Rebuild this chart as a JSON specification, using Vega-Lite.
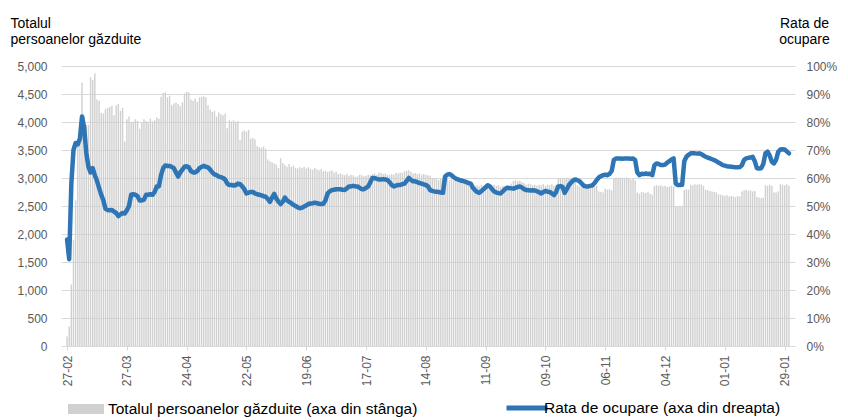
{
  "$schema": "https://vega.github.io/schema/vega-lite/v6.json",
  "width": 734,
  "height": 280,
  "autosize": {"type": "none"},
  "padding": {"left": 61, "top": 66, "right": 53, "bottom": 74},
  "background": "white",
  "config": {
    "view": {"stroke": null},
    "axis": {"labelFont": "Liberation Sans", "titleFont": "Liberation Sans", "labelFlush": false, "labelOverlap": false},
    "legend": {"labelFont": "Liberation Sans"}
  },
  "data": {"values": [
{"date":"2022-02-27","total":170,"rate":38},
{"date":"2022-02-28","total":350,"rate":31},
{"date":"2022-03-01","total":1100,"rate":58},
{"date":"2022-03-02","total":1900,"rate":70},
{"date":"2022-03-03","total":2600,"rate":72.5},
{"date":"2022-03-04","total":3600,"rate":72},
{"date":"2022-03-05","total":4000,"rate":74},
{"date":"2022-03-06","total":4700,"rate":82},
{"date":"2022-03-07","total":4100,"rate":78},
{"date":"2022-03-08","total":3950,"rate":69},
{"date":"2022-03-09","total":3950,"rate":64},
{"date":"2022-03-10","total":4800,"rate":62},
{"date":"2022-03-11","total":4750,"rate":63.5},
{"date":"2022-03-12","total":4870,"rate":61},
{"date":"2022-03-13","total":4400,"rate":59},
{"date":"2022-03-14","total":4380,"rate":56.5},
{"date":"2022-03-15","total":4160,"rate":54},
{"date":"2022-03-16","total":4150,"rate":52},
{"date":"2022-03-17","total":4230,"rate":49},
{"date":"2022-03-18","total":4250,"rate":48.6},
{"date":"2022-03-19","total":4270,"rate":48.5},
{"date":"2022-03-20","total":4290,"rate":48.6},
{"date":"2022-03-21","total":4120,"rate":48},
{"date":"2022-03-22","total":4300,"rate":47.5},
{"date":"2022-03-23","total":4320,"rate":46.4},
{"date":"2022-03-24","total":4200,"rate":47},
{"date":"2022-03-25","total":4250,"rate":47.5},
{"date":"2022-03-26","total":3650,"rate":47.3},
{"date":"2022-03-27","total":4050,"rate":48.5},
{"date":"2022-03-28","total":4100,"rate":50},
{"date":"2022-03-29","total":4000,"rate":54},
{"date":"2022-03-30","total":4010,"rate":54.2},
{"date":"2022-03-31","total":4050,"rate":54},
{"date":"2022-04-01","total":4020,"rate":53.5},
{"date":"2022-04-02","total":3880,"rate":52},
{"date":"2022-04-03","total":4000,"rate":52},
{"date":"2022-04-04","total":4050,"rate":52.3},
{"date":"2022-04-05","total":4020,"rate":54},
{"date":"2022-04-06","total":4000,"rate":54},
{"date":"2022-04-07","total":4060,"rate":54.2},
{"date":"2022-04-08","total":4010,"rate":54},
{"date":"2022-04-09","total":4030,"rate":55},
{"date":"2022-04-10","total":4080,"rate":57},
{"date":"2022-04-11","total":4060,"rate":57},
{"date":"2022-04-12","total":4450,"rate":61},
{"date":"2022-04-13","total":4520,"rate":63.5},
{"date":"2022-04-14","total":4530,"rate":64.5},
{"date":"2022-04-15","total":4440,"rate":64.3},
{"date":"2022-04-16","total":4470,"rate":64.3},
{"date":"2022-04-17","total":4300,"rate":64},
{"date":"2022-04-18","total":4330,"rate":63.5},
{"date":"2022-04-19","total":4350,"rate":62},
{"date":"2022-04-20","total":4320,"rate":60.5},
{"date":"2022-04-21","total":4280,"rate":62},
{"date":"2022-04-22","total":4350,"rate":63},
{"date":"2022-04-23","total":4510,"rate":64},
{"date":"2022-04-24","total":4540,"rate":64.2},
{"date":"2022-04-25","total":4530,"rate":63.8},
{"date":"2022-04-26","total":4400,"rate":62.5},
{"date":"2022-04-27","total":4380,"rate":62},
{"date":"2022-04-28","total":4420,"rate":62},
{"date":"2022-04-29","total":4360,"rate":62.5},
{"date":"2022-04-30","total":4440,"rate":63.5},
{"date":"2022-05-01","total":4450,"rate":64},
{"date":"2022-05-02","total":4460,"rate":64.3},
{"date":"2022-05-03","total":4440,"rate":64},
{"date":"2022-05-04","total":4300,"rate":63.8},
{"date":"2022-05-05","total":4220,"rate":63},
{"date":"2022-05-06","total":4180,"rate":62},
{"date":"2022-05-07","total":4200,"rate":61.3},
{"date":"2022-05-08","total":4100,"rate":61},
{"date":"2022-05-09","total":4170,"rate":60.5},
{"date":"2022-05-10","total":4140,"rate":60.3},
{"date":"2022-05-11","total":4120,"rate":60},
{"date":"2022-05-12","total":4150,"rate":59.5},
{"date":"2022-05-13","total":3890,"rate":58},
{"date":"2022-05-14","total":4030,"rate":57.5},
{"date":"2022-05-15","total":4010,"rate":57.5},
{"date":"2022-05-16","total":4030,"rate":57.3},
{"date":"2022-05-17","total":4000,"rate":57.5},
{"date":"2022-05-18","total":4020,"rate":58},
{"date":"2022-05-19","total":3680,"rate":57.8},
{"date":"2022-05-20","total":3830,"rate":57},
{"date":"2022-05-21","total":3850,"rate":56},
{"date":"2022-05-22","total":3830,"rate":54.5},
{"date":"2022-05-23","total":3860,"rate":54.8},
{"date":"2022-05-24","total":3700,"rate":55},
{"date":"2022-05-25","total":3720,"rate":55},
{"date":"2022-05-26","total":3690,"rate":54.5},
{"date":"2022-05-27","total":3570,"rate":54.2},
{"date":"2022-05-28","total":3550,"rate":54},
{"date":"2022-05-29","total":3540,"rate":53.8},
{"date":"2022-05-30","total":3560,"rate":53.5},
{"date":"2022-05-31","total":3520,"rate":53.3},
{"date":"2022-06-01","total":3330,"rate":52.5},
{"date":"2022-06-02","total":3300,"rate":51.5},
{"date":"2022-06-03","total":3280,"rate":53},
{"date":"2022-06-04","total":3260,"rate":54.3},
{"date":"2022-06-05","total":3240,"rate":52.7},
{"date":"2022-06-06","total":3180,"rate":51.5},
{"date":"2022-06-07","total":3350,"rate":50.7},
{"date":"2022-06-08","total":3270,"rate":51.5},
{"date":"2022-06-09","total":3230,"rate":53},
{"date":"2022-06-10","total":3200,"rate":52},
{"date":"2022-06-11","total":3250,"rate":51.5},
{"date":"2022-06-12","total":3200,"rate":51},
{"date":"2022-06-13","total":3220,"rate":50.4},
{"date":"2022-06-14","total":3180,"rate":50},
{"date":"2022-06-15","total":3170,"rate":49.5},
{"date":"2022-06-16","total":3190,"rate":49.2},
{"date":"2022-06-17","total":3180,"rate":49.4},
{"date":"2022-06-18","total":3200,"rate":49.8},
{"date":"2022-06-19","total":3170,"rate":50.2},
{"date":"2022-06-20","total":3190,"rate":50.7},
{"date":"2022-06-21","total":3160,"rate":50.9},
{"date":"2022-06-22","total":3150,"rate":51},
{"date":"2022-06-23","total":3180,"rate":51.2},
{"date":"2022-06-24","total":3150,"rate":51},
{"date":"2022-06-25","total":3140,"rate":50.8},
{"date":"2022-06-26","total":3160,"rate":50.7},
{"date":"2022-06-27","total":3120,"rate":50.8},
{"date":"2022-06-28","total":3130,"rate":52},
{"date":"2022-06-29","total":3110,"rate":54.5},
{"date":"2022-06-30","total":3120,"rate":55.2},
{"date":"2022-07-01","total":3140,"rate":55.7},
{"date":"2022-07-02","total":3100,"rate":55.8},
{"date":"2022-07-03","total":3110,"rate":56},
{"date":"2022-07-04","total":3070,"rate":56},
{"date":"2022-07-05","total":3080,"rate":56},
{"date":"2022-07-06","total":3060,"rate":55.8},
{"date":"2022-07-07","total":3050,"rate":55.7},
{"date":"2022-07-08","total":3070,"rate":56.3},
{"date":"2022-07-09","total":3040,"rate":57},
{"date":"2022-07-10","total":3060,"rate":57},
{"date":"2022-07-11","total":3050,"rate":57.2},
{"date":"2022-07-12","total":3020,"rate":57},
{"date":"2022-07-13","total":3030,"rate":57},
{"date":"2022-07-14","total":3060,"rate":56.5},
{"date":"2022-07-15","total":3050,"rate":56},
{"date":"2022-07-16","total":3030,"rate":56},
{"date":"2022-07-17","total":3040,"rate":56.5},
{"date":"2022-07-18","total":3060,"rate":57},
{"date":"2022-07-19","total":3050,"rate":58.5},
{"date":"2022-07-20","total":3070,"rate":60},
{"date":"2022-07-21","total":3080,"rate":60},
{"date":"2022-07-22","total":3060,"rate":59.7},
{"date":"2022-07-23","total":3100,"rate":59.5},
{"date":"2022-07-24","total":3090,"rate":59.5},
{"date":"2022-07-25","total":3070,"rate":59.6},
{"date":"2022-07-26","total":3080,"rate":59.5},
{"date":"2022-07-27","total":3060,"rate":59.3},
{"date":"2022-07-28","total":3050,"rate":58.5},
{"date":"2022-07-29","total":3070,"rate":57.5},
{"date":"2022-07-30","total":3060,"rate":57},
{"date":"2022-07-31","total":3090,"rate":57.3},
{"date":"2022-08-01","total":3080,"rate":57.5},
{"date":"2022-08-02","total":3100,"rate":57.5},
{"date":"2022-08-03","total":3090,"rate":57.8},
{"date":"2022-08-04","total":3120,"rate":58},
{"date":"2022-08-05","total":3130,"rate":59},
{"date":"2022-08-06","total":3140,"rate":60},
{"date":"2022-08-07","total":3110,"rate":59.3},
{"date":"2022-08-08","total":3080,"rate":58.8},
{"date":"2022-08-09","total":3090,"rate":58.8},
{"date":"2022-08-10","total":3070,"rate":58.5},
{"date":"2022-08-11","total":3080,"rate":58.2},
{"date":"2022-08-12","total":3060,"rate":58},
{"date":"2022-08-13","total":3070,"rate":57.7},
{"date":"2022-08-14","total":3060,"rate":57.5},
{"date":"2022-08-15","total":3050,"rate":57},
{"date":"2022-08-16","total":3040,"rate":55.7},
{"date":"2022-08-17","total":3000,"rate":55.4},
{"date":"2022-08-18","total":2990,"rate":55.2},
{"date":"2022-08-19","total":2980,"rate":55.1},
{"date":"2022-08-20","total":2960,"rate":55},
{"date":"2022-08-21","total":2980,"rate":54.8},
{"date":"2022-08-22","total":2970,"rate":54.7},
{"date":"2022-08-23","total":3000,"rate":60.5},
{"date":"2022-08-24","total":2990,"rate":61.2},
{"date":"2022-08-25","total":2960,"rate":61.4},
{"date":"2022-08-26","total":2980,"rate":61},
{"date":"2022-08-27","total":2950,"rate":60.3},
{"date":"2022-08-28","total":2970,"rate":59.8},
{"date":"2022-08-29","total":2940,"rate":59.5},
{"date":"2022-08-30","total":2960,"rate":59.2},
{"date":"2022-08-31","total":2930,"rate":59},
{"date":"2022-09-01","total":2950,"rate":58.8},
{"date":"2022-09-02","total":2940,"rate":58.5},
{"date":"2022-09-03","total":2930,"rate":58.2},
{"date":"2022-09-04","total":2900,"rate":58},
{"date":"2022-09-05","total":2880,"rate":56.5},
{"date":"2022-09-06","total":2860,"rate":55.7},
{"date":"2022-09-07","total":2870,"rate":55},
{"date":"2022-09-08","total":2850,"rate":54.7},
{"date":"2022-09-09","total":2880,"rate":55.3},
{"date":"2022-09-10","total":2860,"rate":56},
{"date":"2022-09-11","total":2870,"rate":56.7},
{"date":"2022-09-12","total":2840,"rate":57.4},
{"date":"2022-09-13","total":2860,"rate":57},
{"date":"2022-09-14","total":2850,"rate":56},
{"date":"2022-09-15","total":2880,"rate":55.2},
{"date":"2022-09-16","total":2860,"rate":54.8},
{"date":"2022-09-17","total":2870,"rate":54.6},
{"date":"2022-09-18","total":2840,"rate":54.5},
{"date":"2022-09-19","total":2860,"rate":55.2},
{"date":"2022-09-20","total":2850,"rate":56},
{"date":"2022-09-21","total":2870,"rate":56.5},
{"date":"2022-09-22","total":2840,"rate":56.4},
{"date":"2022-09-23","total":2900,"rate":56.3},
{"date":"2022-09-24","total":2950,"rate":56.2},
{"date":"2022-09-25","total":2960,"rate":56.5},
{"date":"2022-09-26","total":2940,"rate":56.8},
{"date":"2022-09-27","total":2950,"rate":57},
{"date":"2022-09-28","total":2930,"rate":56.6},
{"date":"2022-09-29","total":2910,"rate":56},
{"date":"2022-09-30","total":2880,"rate":55.7},
{"date":"2022-10-01","total":2900,"rate":55.6},
{"date":"2022-10-02","total":2890,"rate":55.5},
{"date":"2022-10-03","total":2870,"rate":55.6},
{"date":"2022-10-04","total":2880,"rate":55.5},
{"date":"2022-10-05","total":2860,"rate":55.3},
{"date":"2022-10-06","total":2880,"rate":54.9},
{"date":"2022-10-07","total":2870,"rate":54.5},
{"date":"2022-10-08","total":2890,"rate":55},
{"date":"2022-10-09","total":2860,"rate":55.4},
{"date":"2022-10-10","total":2880,"rate":55.1},
{"date":"2022-10-11","total":2870,"rate":55},
{"date":"2022-10-12","total":2890,"rate":54.5},
{"date":"2022-10-13","total":2860,"rate":53.9},
{"date":"2022-10-14","total":2880,"rate":55},
{"date":"2022-10-15","total":2990,"rate":57},
{"date":"2022-10-16","total":3000,"rate":57.1},
{"date":"2022-10-17","total":2990,"rate":56.8},
{"date":"2022-10-18","total":2980,"rate":54.7},
{"date":"2022-10-19","total":3010,"rate":56},
{"date":"2022-10-20","total":3000,"rate":57.5},
{"date":"2022-10-21","total":2990,"rate":58.4},
{"date":"2022-10-22","total":3020,"rate":59.1},
{"date":"2022-10-23","total":2980,"rate":59.5},
{"date":"2022-10-24","total":2870,"rate":59.2},
{"date":"2022-10-25","total":2850,"rate":58.8},
{"date":"2022-10-26","total":2830,"rate":58},
{"date":"2022-10-27","total":2860,"rate":57.2},
{"date":"2022-10-28","total":2840,"rate":57},
{"date":"2022-10-29","total":2820,"rate":57},
{"date":"2022-10-30","total":2860,"rate":57.2},
{"date":"2022-10-31","total":2870,"rate":57.4},
{"date":"2022-11-01","total":2850,"rate":58.2},
{"date":"2022-11-02","total":2860,"rate":59.3},
{"date":"2022-11-03","total":2760,"rate":60.2},
{"date":"2022-11-04","total":2750,"rate":60.7},
{"date":"2022-11-05","total":2740,"rate":61},
{"date":"2022-11-06","total":2810,"rate":61.2},
{"date":"2022-11-07","total":2790,"rate":61},
{"date":"2022-11-08","total":2800,"rate":61.5},
{"date":"2022-11-09","total":2780,"rate":62.5},
{"date":"2022-11-10","total":2990,"rate":66.4},
{"date":"2022-11-11","total":3010,"rate":67},
{"date":"2022-11-12","total":3000,"rate":67},
{"date":"2022-11-13","total":3010,"rate":67},
{"date":"2022-11-14","total":3000,"rate":66.9},
{"date":"2022-11-15","total":2990,"rate":67},
{"date":"2022-11-16","total":3010,"rate":67},
{"date":"2022-11-17","total":2990,"rate":67},
{"date":"2022-11-18","total":2970,"rate":66.9},
{"date":"2022-11-19","total":2980,"rate":67},
{"date":"2022-11-20","total":2960,"rate":66.4},
{"date":"2022-11-21","total":2740,"rate":62},
{"date":"2022-11-22","total":2720,"rate":61},
{"date":"2022-11-23","total":2750,"rate":61.5},
{"date":"2022-11-24","total":2740,"rate":61.4},
{"date":"2022-11-25","total":2730,"rate":61.6},
{"date":"2022-11-26","total":2750,"rate":61.4},
{"date":"2022-11-27","total":2720,"rate":61.5},
{"date":"2022-11-28","total":2700,"rate":61},
{"date":"2022-11-29","total":2860,"rate":64.5},
{"date":"2022-11-30","total":2870,"rate":65.2},
{"date":"2022-12-01","total":2860,"rate":65},
{"date":"2022-12-02","total":2870,"rate":64.6},
{"date":"2022-12-03","total":2850,"rate":64.6},
{"date":"2022-12-04","total":2860,"rate":64.8},
{"date":"2022-12-05","total":2840,"rate":65.5},
{"date":"2022-12-06","total":2850,"rate":66},
{"date":"2022-12-07","total":2860,"rate":66.6},
{"date":"2022-12-08","total":2850,"rate":67},
{"date":"2022-12-09","total":2490,"rate":58},
{"date":"2022-12-10","total":2480,"rate":57.5},
{"date":"2022-12-11","total":2490,"rate":57.5},
{"date":"2022-12-12","total":2490,"rate":57.6},
{"date":"2022-12-13","total":2790,"rate":66},
{"date":"2022-12-14","total":2800,"rate":67.6},
{"date":"2022-12-15","total":2790,"rate":68.3},
{"date":"2022-12-16","total":2880,"rate":68.8},
{"date":"2022-12-17","total":2870,"rate":68.8},
{"date":"2022-12-18","total":2890,"rate":68.8},
{"date":"2022-12-19","total":2880,"rate":68.7},
{"date":"2022-12-20","total":2890,"rate":68.8},
{"date":"2022-12-21","total":2880,"rate":68.5},
{"date":"2022-12-22","total":2860,"rate":68},
{"date":"2022-12-23","total":2790,"rate":67.6},
{"date":"2022-12-24","total":2780,"rate":67.3},
{"date":"2022-12-25","total":2770,"rate":67},
{"date":"2022-12-26","total":2760,"rate":66.7},
{"date":"2022-12-27","total":2750,"rate":66.4},
{"date":"2022-12-28","total":2740,"rate":66},
{"date":"2022-12-29","total":2710,"rate":65.5},
{"date":"2022-12-30","total":2700,"rate":65.1},
{"date":"2022-12-31","total":2690,"rate":64.6},
{"date":"2023-01-01","total":2680,"rate":64.4},
{"date":"2023-01-02","total":2690,"rate":64.2},
{"date":"2023-01-03","total":2670,"rate":64.1},
{"date":"2023-01-04","total":2680,"rate":64},
{"date":"2023-01-05","total":2670,"rate":63.9},
{"date":"2023-01-06","total":2660,"rate":63.8},
{"date":"2023-01-07","total":2680,"rate":63.8},
{"date":"2023-01-08","total":2670,"rate":63.9},
{"date":"2023-01-09","total":2760,"rate":64.6},
{"date":"2023-01-10","total":2780,"rate":66.5},
{"date":"2023-01-11","total":2790,"rate":67},
{"date":"2023-01-12","total":2770,"rate":67.2},
{"date":"2023-01-13","total":2780,"rate":67.3},
{"date":"2023-01-14","total":2760,"rate":67.6},
{"date":"2023-01-15","total":2770,"rate":66},
{"date":"2023-01-16","total":2660,"rate":63.5},
{"date":"2023-01-17","total":2650,"rate":63.4},
{"date":"2023-01-18","total":2640,"rate":63.5},
{"date":"2023-01-19","total":2650,"rate":65},
{"date":"2023-01-20","total":2870,"rate":68.8},
{"date":"2023-01-21","total":2860,"rate":69.4},
{"date":"2023-01-22","total":2880,"rate":68},
{"date":"2023-01-23","total":2860,"rate":65.8},
{"date":"2023-01-24","total":2740,"rate":65.2},
{"date":"2023-01-25","total":2740,"rate":66.5},
{"date":"2023-01-26","total":2760,"rate":69.4},
{"date":"2023-01-27","total":2890,"rate":70.2},
{"date":"2023-01-28","total":2880,"rate":70.3},
{"date":"2023-01-29","total":2870,"rate":70.2},
{"date":"2023-01-30","total":2890,"rate":69.5},
{"date":"2023-01-31","total":2860,"rate":68.8}
  ]},
  "encoding": {
    "x": {
      "field": "date",
      "type": "temporal",
      "scale": {"type": "utc", "domain": [{"year": 2022, "month": 2, "date": 26, "hours": 12, "utc": true}, {"year": 2023, "month": 1, "date": 31, "hours": 12, "utc": true}]},
      "axis": {
        "title": null,
        "format": "%d-%m",
        "values": [
          {"year": 2022, "month": 2, "date": 27, "utc": true},
          {"year": 2022, "month": 3, "date": 27, "utc": true},
          {"year": 2022, "month": 4, "date": 24, "utc": true},
          {"year": 2022, "month": 5, "date": 22, "utc": true},
          {"year": 2022, "month": 6, "date": 19, "utc": true},
          {"year": 2022, "month": 7, "date": 17, "utc": true},
          {"year": 2022, "month": 8, "date": 14, "utc": true},
          {"year": 2022, "month": 9, "date": 11, "utc": true},
          {"year": 2022, "month": 10, "date": 9, "utc": true},
          {"year": 2022, "month": 11, "date": 6, "utc": true},
          {"year": 2022, "month": 12, "date": 4, "utc": true},
          {"year": 2023, "month": 1, "date": 1, "utc": true},
          {"year": 2023, "month": 1, "date": 29, "utc": true}
        ],
        "labelAngle": 270,
        "labelFontSize": 12,
        "labelColor": "#595959",
        "labelPadding": 5,
        "tickSize": 4,
        "tickColor": "#d9d9d9",
        "domain": false,
        "grid": false
      }
    }
  },
  "layer": [
    {
      "mark": {"type": "bar", "width": 1.4},
      "encoding": {
        "y": {
          "field": "total",
          "type": "quantitative",
          "scale": {"domain": [0, 5000]},
          "axis": {
            "orient": "left",
            "values": [0, 500, 1000, 1500, 2000, 2500, 3000, 3500, 4000, 4500, 5000],
            "format": ",.0f",
            "labelFontSize": 12,
            "labelColor": "#595959",
            "labelPadding": 14,
            "ticks": false,
            "domain": false,
            "grid": true,
            "gridColor": "#d9d9d9",
            "gridWidth": 1,
            "title": ["Totalul", "persoanelor găzduite"],
            "titleAngle": 0,
            "titleAlign": "left",
            "titleBaseline": "alphabetic",
            "titleX": -51,
            "titleY": -39,
            "titleFontSize": 14,
            "titleFontWeight": "normal",
            "titleColor": "#000000",
            "titleLineHeight": 16.5
          }
        },
        "fill": {
          "datum": "Totalul persoanelor găzduite (axa din stânga)",
          "type": "nominal",
          "scale": {"range": ["#d0d0d0"]},
          "legend": {
            "orient": "none",
            "legendX": 7,
            "legendY": 325,
            "title": null,
            "padding": 0,
            "symbolType": "M-1,-0.28H1V0.28H-1Z",
            "symbolSize": 1296,
            "symbolStrokeWidth": 0,
            "symbolOpacity": 1,
            "labelFontSize": 15.5,
            "labelColor": "#000000",
            "labelOffset": 4,
            "labelLimit": 500
          }
        }
      }
    },
    {
      "mark": {"type": "line", "strokeWidth": 4.5, "strokeJoin": "round", "strokeCap": "round"},
      "encoding": {
        "y": {
          "field": "rate",
          "type": "quantitative",
          "scale": {"domain": [0, 100]},
          "axis": {
            "orient": "right",
            "values": [0, 10, 20, 30, 40, 50, 60, 70, 80, 90, 100],
            "labelExpr": "datum.value + '%'",
            "labelFontSize": 12,
            "labelColor": "#595959",
            "labelPadding": 11,
            "ticks": false,
            "domain": false,
            "grid": false,
            "title": ["Rata de", "ocupare"],
            "titleAngle": 0,
            "titleAlign": "center",
            "titleBaseline": "alphabetic",
            "titleX": 9,
            "titleY": -39,
            "titleFontSize": 14,
            "titleFontWeight": "normal",
            "titleColor": "#000000",
            "titleLineHeight": 16.5
          }
        },
        "stroke": {
          "datum": "Rata de ocupare (axa din dreapta)",
          "type": "nominal",
          "scale": {"range": ["#2e75b6"]},
          "legend": {
            "orient": "none",
            "legendX": 443,
            "legendY": 319,
            "title": null,
            "padding": 0,
            "symbolType": "stroke",
            "symbolSize": 1681,
            "symbolStrokeWidth": 5,
            "labelFontSize": 15.5,
            "labelColor": "#000000",
            "labelOffset": -6,
            "labelLimit": 500
          }
        }
      }
    }
  ],
  "resolve": {"scale": {"y": "independent", "fill": "independent", "stroke": "independent"}}
}
